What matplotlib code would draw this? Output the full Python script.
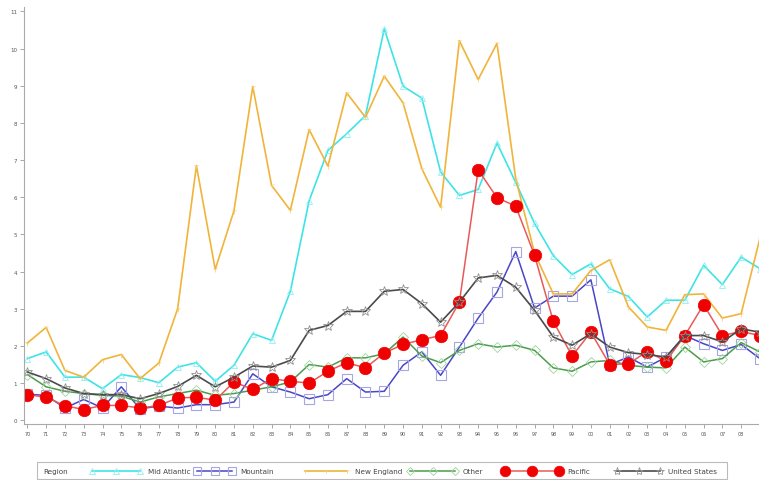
import matplotlib
matplotlib.use("Agg")
import matplotlib.pyplot as plt
from matplotlib.patches import Rectangle

years = [f"{y % 100:02d}" for y in range(1970, 2010)]

mid_atlantic = [1.66, 1.84, 1.16, 1.16, 0.85, 1.23, 1.15, 1.01, 1.43, 1.55,
                1.05, 1.48, 2.33, 2.15, 3.47, 5.91, 7.26, 7.71, 8.20, 10.53,
                8.99, 8.67, 6.68, 6.05, 6.21, 7.46, 6.40, 5.30, 4.43, 3.92,
                4.21, 3.54, 3.33, 2.78, 3.23, 3.23, 4.17, 3.65, 4.39, 4.08]

mountain = [0.70, 0.67, 0.33, 0.56, 0.33, 0.90, 0.31, 0.38, 0.33, 0.42,
            0.42, 0.49, 1.25, 0.90, 0.76, 0.58, 0.69, 1.12, 0.76, 0.78,
            1.48, 1.84, 1.21, 1.97, 2.75, 3.45, 4.54, 3.02, 3.34, 3.34,
            3.78, 1.50, 1.70, 1.43, 1.70, 2.28, 2.06, 1.88, 2.04, 1.66]

new_england = [2.08, 2.50, 1.34, 1.16, 1.63, 1.77, 1.12, 1.54, 3.00, 6.85,
               4.06, 5.64, 8.98, 6.32, 5.65, 7.82, 6.84, 8.81, 8.15, 9.26,
               8.54, 6.77, 5.73, 10.21, 9.17, 10.14, 6.50, 4.50, 3.40, 3.40,
               4.03, 4.32, 3.05, 2.51, 2.42, 3.38, 3.40, 2.75, 2.87, 4.90]

other = [1.23, 0.90, 0.78, 0.72, 0.67, 0.65, 0.49, 0.63, 0.72, 0.81,
         0.67, 0.72, 0.81, 0.90, 1.03, 1.50, 1.43, 1.68, 1.68, 1.79,
         2.24, 1.73, 1.55, 1.88, 2.06, 1.97, 2.02, 1.88, 1.41, 1.32,
         1.57, 1.61, 1.48, 1.43, 1.41, 1.97, 1.57, 1.66, 2.09, 1.84]

pacific = [0.69, 0.62, 0.39, 0.29, 0.40, 0.40, 0.33, 0.40, 0.60, 0.62,
           0.54, 1.03, 0.83, 1.12, 1.05, 1.00, 1.32, 1.55, 1.41, 1.81,
           2.04, 2.17, 2.28, 3.18, 6.74, 5.99, 5.76, 4.44, 2.66, 1.73,
           2.37, 1.50, 1.52, 1.85, 1.59, 2.28, 3.11, 2.28, 2.39, 2.28]

united_states = [1.30, 1.12, 0.87, 0.72, 0.69, 0.69, 0.58, 0.72, 0.91, 1.21,
                 0.90, 1.16, 1.46, 1.43, 1.61, 2.42, 2.55, 2.93, 2.93, 3.47,
                 3.52, 3.14, 2.64, 3.18, 3.83, 3.90, 3.58, 2.96, 2.24, 2.02,
                 2.33, 1.97, 1.82, 1.77, 1.70, 2.28, 2.28, 2.11, 2.46, 2.37]

series_names = ["Mid Atlantic", "Mountain", "New England", "Other", "Pacific", "United States"]
legend_title = "Region"
y_ticks = list(range(0, 12))

x = list(range(len(years)))

W, H = 759, 481
fig = plt.figure(figsize=(W / 100, H / 100), dpi=100)
ax = fig.add_axes([24 / W, 56 / H, 1 - 24 / W, 417 / H])

styles = [
    dict(color="#3fe3e6", lw=1.2, marker="^", ms=4.5, mfc="none", mec="#8ef0f0", mew=0.6),
    dict(color="#4a46c8", lw=1.1, marker="s", ms=7.5, mfc="none", mec="#a6a6e6", mew=0.8),
    dict(color="#f0b43a", lw=1.2, marker="1", ms=4, mec="#f5cc70", mew=0.5),
    dict(color="#4c9c4c", lw=1.1, marker="D", ms=5, mfc="none", mec="#9fd49f", mew=0.6),
    dict(color="#e85a5a", lw=1.1, marker="o", ms=9, mfc="#f00000", mec="#f00000", mew=0.5),
    dict(color="#4a4a4a", lw=1.2, marker="*", ms=7, mfc="none", mec="#909090", mew=0.6),
]
all_series = [mid_atlantic, mountain, new_england, other, pacific, united_states]

for name, vals, st in zip(series_names, all_series, styles):
    ax.plot(x, vals, label=name, **st)

ax.set_xlim(-0.18, 38.95)
ax.set_ylim(-0.1, 11.12)
ax.set_xticks(x[:39])
ax.set_xticklabels(years[:39], fontsize=3.5, color="#555555")
ax.set_yticks(y_ticks)
ax.set_yticklabels([str(v) for v in y_ticks], fontsize=4, color="#555555")
ax.tick_params(axis="both", colors="#999999", length=3, width=0.6, labelcolor="#555555", pad=2)
for s in ["top", "right"]:
    ax.spines[s].set_visible(False)
for s in ["left", "bottom"]:
    ax.spines[s].set_color("#aaaaaa")
    ax.spines[s].set_linewidth(0.8)

# legend box drawn in a pixel-coordinate overlay axes
lax = fig.add_axes([0, 0, 1, 1], zorder=5)
lax.set_xlim(0, W)
lax.set_ylim(H, 0)
lax.axis("off")
lax.add_patch(Rectangle((37, 463), 690, 17, fill=False, ec="#bbbbbb", lw=0.8))
lax.text(43, 472, legend_title, fontsize=5.2, color="#444444", va="center")
handle_x = [92, 197, 305, 410, 505, 617]
text_x = [148, 240, 355, 463, 567, 668]
for hx, tx, name, st in zip(handle_x, text_x, series_names, styles):
    st2 = dict(st)
    st2["ms"] = st["ms"] * 0.85
    he = tx - 8
    lax.plot([hx, (hx + he) / 2, he], [472, 472, 472], **st2)
    lax.text(tx, 472, name, fontsize=5.2, color="#444444", va="center")

fig.savefig("out.png", dpi=100)
